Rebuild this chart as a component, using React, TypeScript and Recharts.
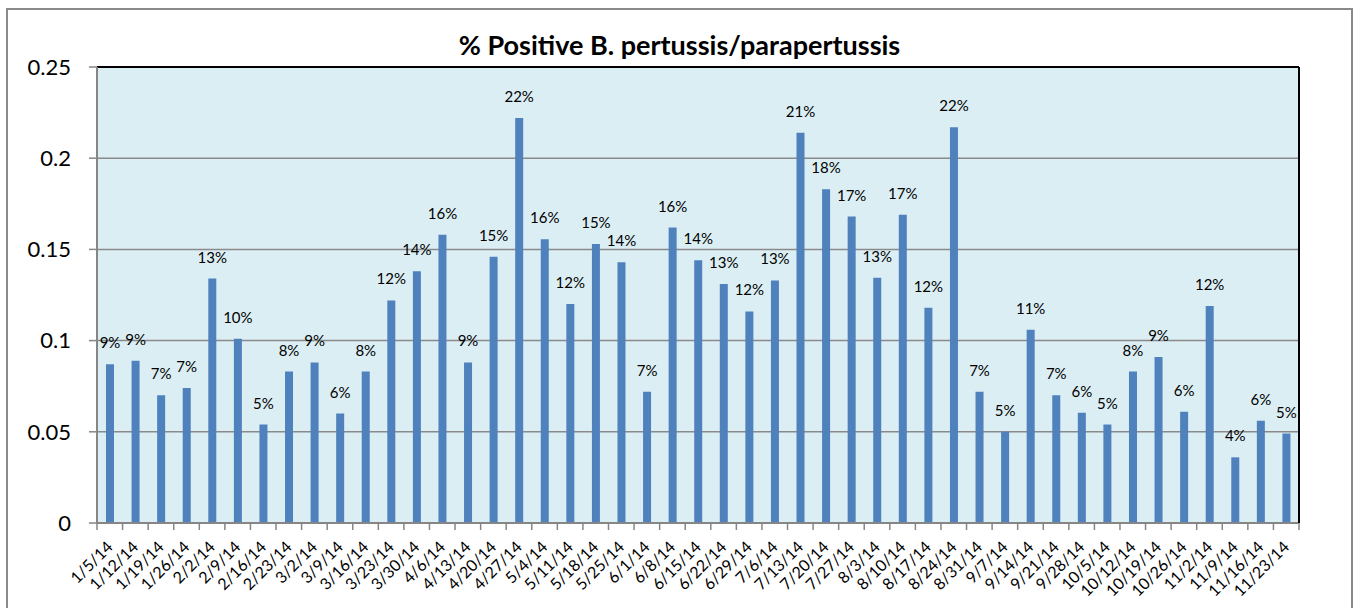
import React from "react";
import {
  BarChart,
  Bar,
  XAxis,
  YAxis,
  CartesianGrid,
  LabelList,
  ReferenceLine,
} from "recharts";

const weeks = [
  "1/5/14", "1/12/14", "1/19/14", "1/26/14", "2/2/14", "2/9/14", "2/16/14",
  "2/23/14", "3/2/14", "3/9/14", "3/16/14", "3/23/14", "3/30/14", "4/6/14",
  "4/13/14", "4/20/14", "4/27/14", "5/4/14", "5/11/14", "5/18/14", "5/25/14",
  "6/1/14", "6/8/14", "6/15/14", "6/22/14", "6/29/14", "7/6/14", "7/13/14",
  "7/20/14", "7/27/14", "8/3/14", "8/10/14", "8/17/14", "8/24/14", "8/31/14",
  "9/7/14", "9/14/14", "9/21/14", "9/28/14", "10/5/14", "10/12/14",
  "10/19/14", "10/26/14", "11/2/14", "11/9/14", "11/16/14", "11/23/14",
];

const pctPositive = [
  0.087, 0.089, 0.07, 0.074, 0.134, 0.101, 0.054,
  0.083, 0.088, 0.06, 0.083, 0.122, 0.138, 0.158,
  0.088, 0.146, 0.222, 0.1555, 0.12, 0.153, 0.143,
  0.072, 0.162, 0.144, 0.131, 0.116, 0.133, 0.214,
  0.183, 0.168, 0.1345, 0.169, 0.118, 0.217, 0.072,
  0.05, 0.106, 0.07, 0.0605, 0.054, 0.083,
  0.091, 0.061, 0.119, 0.036, 0.056, 0.049,
];

const yTicks = [0, 0.05, 0.1, 0.15, 0.2, 0.25];

const data = weeks.map((week, i) => ({ week, pct: pctPositive[i] }));

const FONT = "Lato, 'Open Sans', sans-serif";
const AXIS_GRAY = "#868686";

// category labels sit under the bar, ticks sit between categories (Excel style)
function WeekTick(props: any) {
  const { x, y, payload, index } = props;
  const half = payload && payload.offset ? payload.offset : 12.8;
  const tx = x + 4;
  const ty = y + 25;
  return (
    <g>
      <line x1={x - half} y1={y} x2={x - half} y2={y + 7} stroke={AXIS_GRAY} strokeWidth={1.5} />
      {index === weeks.length - 1 && (
        <line x1={x + half} y1={y} x2={x + half} y2={y + 7} stroke={AXIS_GRAY} strokeWidth={1.5} />
      )}
      <text
        x={tx}
        y={ty}
        transform={`rotate(-45, ${tx}, ${ty})`}
        textAnchor="end"
        fontSize={16}
        fontFamily={FONT}
        fill="#000"
      >
        {payload.value}
      </text>
    </g>
  );
}

export default function App() {
  return (
    <div
      style={{
        position: "absolute",
        left: 0,
        top: 0,
        width: 1355,
        height: 608,
        background: "#fff",
        overflow: "hidden",
      }}
    >
      <div
        style={{
          position: "absolute",
          left: 6,
          top: 8,
          width: 1343,
          height: 640,
          border: "2px solid #8a8a8a",
        }}
      />
      <div
        style={{
          position: "absolute",
          left: 0,
          width: 1355,
          top: 30,
          textAlign: "center",
          paddingLeft: 2,
          fontFamily: FONT,
          fontWeight: 700,
          fontSize: 27,
          lineHeight: "30px",
          color: "#000",
        }}
      >
        % Positive B. pertussis/parapertussis
      </div>
      <div style={{ position: "absolute", left: 0, top: 0 }}>
        <BarChart
          width={1355}
          height={608}
          data={data}
          margin={{ top: 67, right: 55, left: 0, bottom: 0 }}
        >
          <CartesianGrid
            vertical={false}
            fill="#DBEEF4"
            stroke="#8a8a8a"
            strokeWidth={1.5}
          />
          <XAxis
            dataKey="week"
            interval={0}
            height={85}
            tickSize={0}
            tickMargin={0}
            tickLine={false}
            axisLine={{ stroke: AXIS_GRAY, strokeWidth: 2 }}
            tick={<WeekTick />}
          />
          <YAxis
            width={97}
            domain={[0, 0.25]}
            ticks={yTicks}
            tickSize={8}
            tickMargin={18}
            tickLine={{ stroke: AXIS_GRAY, strokeWidth: 1.5 }}
            axisLine={{ stroke: AXIS_GRAY, strokeWidth: 2 }}
            tick={{ fill: "#000", fontSize: 22, fontFamily: FONT }}
          />
          <YAxis
            yAxisId="right"
            orientation="right"
            width={1}
            domain={[0, 0.25]}
            tick={false}
            tickLine={false}
            axisLine={{ stroke: "#000", strokeWidth: 2 }}
          />
          <ReferenceLine y={0.25} stroke="#000" strokeWidth={2} />
          <Bar dataKey="pct" fill="#4F81BD" barSize={8} isAnimationActive={false}>
            <LabelList
              dataKey="pct"
              position="top"
              offset={16}
              formatter={(v: any) => `${Math.round(Number(v) * 100)}%`}
              style={{ fill: "#000", fontSize: 15, fontFamily: FONT }}
            />
          </Bar>
        </BarChart>
      </div>
    </div>
  );
}
